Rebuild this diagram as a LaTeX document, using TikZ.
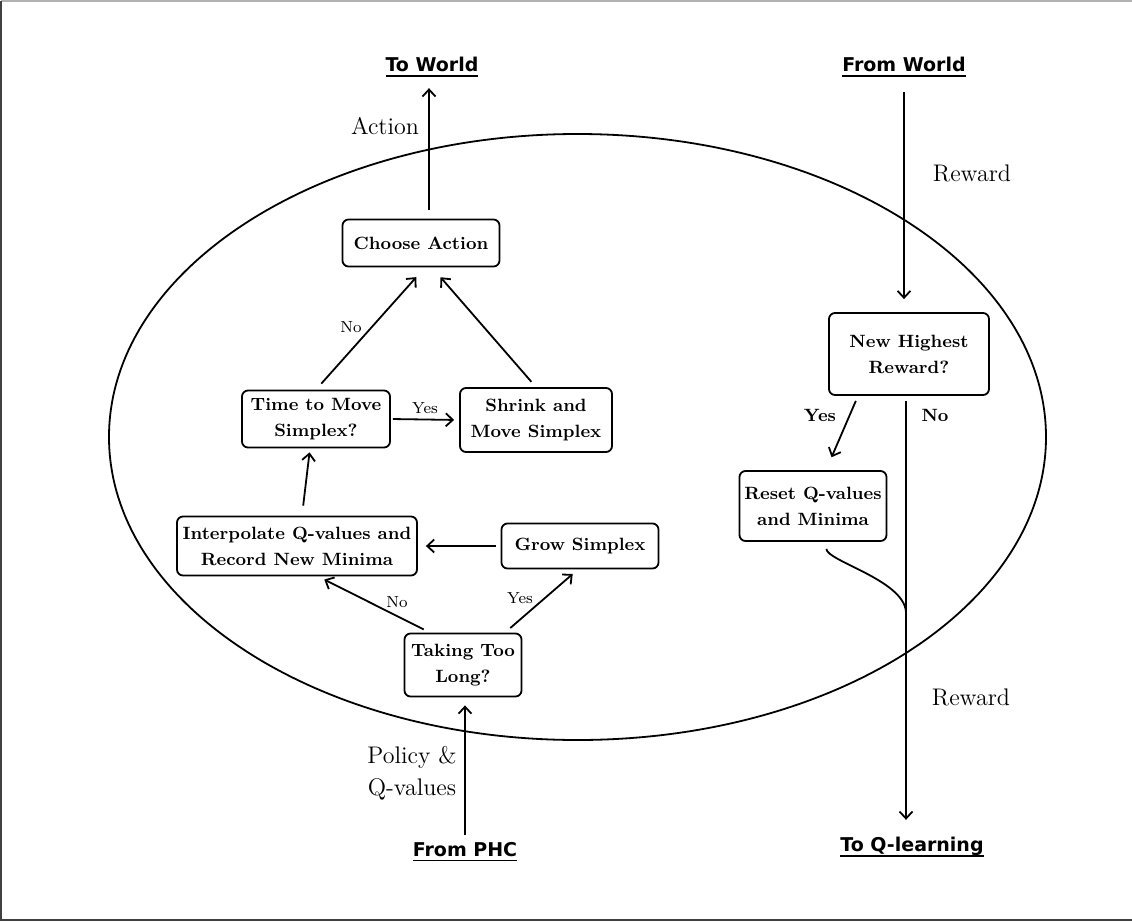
\documentclass[tikz,border=0pt]{standalone}
\usepackage{fontspec}
\newfontfamily\titlefont{DejaVu Sans}
\usetikzlibrary{arrows.meta,calc}

\newcommand{\boxfont}{\bfseries\fontsize{8.9}{13}\selectfont}
\newcommand{\ulined}[1]{\setbox0\hbox{#1}\leavevmode\rlap{\rule[-2.4pt]{\wd0}{0.9pt}}\box0}

\begin{document}
\begin{tikzpicture}[x=0.5pt,y=-0.5pt,line width=0.9pt,
  >={Straight Barb[length=3.5pt,width=6.5pt]},
  procbox/.style={draw,rounded corners=3pt,align=center,font=\boxfont,inner sep=2pt},
  ioname/.style={font=\titlefont\bfseries\fontsize{9.5}{11}\selectfont},
  lbl/.style={font=\fontsize{12}{16}\selectfont,align=center},
  ans/.style={font=\fontsize{8}{9}\selectfont},
  bans/.style={font=\bfseries\fontsize{8.9}{10}\selectfont}]
\useasboundingbox (0,0) rectangle (1132,922);

% Frame
\draw[gray!60] (1132,1) -- (1,1);
\draw[black!75] (1,1) -- (1,920) -- (1132,920);

% Agent
\draw (577.5,437) ellipse [x radius=234.25pt, y radius=151.5pt];

% Inputs and outputs
\node[ioname] (toworld) at (432,67) {\ulined{To World}};
\node[ioname] (fromworld) at (904,67) {\ulined{From World}};
\node[ioname] (fromphc) at (465,852) {\ulined{From PHC}};
\node[ioname] (toq) at (912,847) {\ulined{To Q-learning}};

\node[lbl] (action) at (385,126) {Action};
\node[lbl] (reward1) at (972,173) {Reward};
\node[lbl] (reward2) at (971,697) {Reward};
\node[lbl] (policy) at (412,773) {Policy \&\\Q-values};

% Steps
\node[procbox, minimum width=78.5pt, minimum height=23.5pt] (choose) at (421,243) {Choose Action};
\node[procbox, minimum width=74pt, minimum height=28.5pt] (time) at (316,419) {Time to Move\\Simplex?};
\node[procbox, minimum width=76pt, minimum height=32pt] (shrink) at (536,420) {Shrink and\\Move Simplex};
\node[procbox, minimum width=120pt, minimum height=29.5pt] (interp) at (297,546) {Interpolate Q-values and\\Record New Minima};
\node[procbox, minimum width=78.5pt, minimum height=22.5pt] (grow) at (580,546) {Grow Simplex};
\node[procbox, minimum width=58.5pt, minimum height=31.5pt] (taking) at (463,665) {Taking Too\\Long?};
\node[procbox, minimum width=80pt, minimum height=41pt] (newhigh) at (909,354) {New Highest\\Reward?};
\node[procbox, minimum width=73.5pt, minimum height=35pt] (reset) at (813,506) {Reset Q-values\\and Minima};

% Answers
\node[ans] (no1) at (351,327) {No};
\node[ans] (yes1) at (425,408) {Yes};
\node[ans] (no2) at (397,602) {No};
\node[ans] (yes2) at (520,598) {Yes};
\node[bans] (yes3) at (820,415) {Yes};
\node[bans] (no3) at (935,415) {No};

\coordinate (merge) at (906,612);

% Connectors
\draw[->, shorten <=4.5pt, shorten >=2pt] ([xshift=4pt]choose.north) -- ([xshift=4pt]choose.north |- toworld.south);
\draw[->, shorten <=4pt, shorten >=6.5pt] (fromworld.south) -- (fromworld.south |- newhigh.north);
\draw[->, shorten <=2.7pt, shorten >=7pt] ([xshift=-25.5pt]newhigh.south) -- ([xshift=6.5pt]reset.north);
\draw[->, shorten <=2.5pt, shorten >=5pt] (newhigh.south -| merge) -- (toq.north -| merge);
\draw ([xshift=-30.5pt,yshift=-3.5pt]reset.south east) .. controls +(0pt,-6pt) and +(-1pt,16pt) .. (merge);

\draw[->, shorten <=4pt, shorten >=6.5pt] (time.north) -- ([xshift=2pt]choose.south);
\draw[->, shorten <=3.5pt, shorten >=6.5pt] (shrink.north) -- ([xshift=5.5pt]choose.south);
\draw[->, shorten <=1pt, shorten >=2.5pt] (time.east) -- (shrink.west);
\draw[->, shorten <=5pt, shorten >=2pt] ([xshift=2.5pt]interp.north) -- ([xshift=-3pt]time.south);
\draw[->, shorten <=2.5pt, shorten >=4pt] (grow.west) -- (interp.east);
\draw[->, shorten <=3.5pt, shorten >=3.5pt] ([xshift=-16.5pt]taking.north) -- ([xshift=10.5pt]interp.south);
\draw[->, shorten <=3.5pt, shorten >=3.5pt] ([xshift=21pt]taking.north) -- ([xshift=-1pt]grow.south);
\draw[->, shorten >=4pt] (fromphc.north) -- (taking.south -| fromphc.north);
\end{tikzpicture}
\end{document}
